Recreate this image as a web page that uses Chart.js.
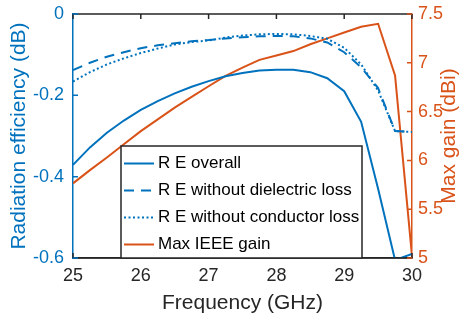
<!DOCTYPE html>
<html>
<head>
<meta charset="utf-8">
<script src="https://cdn.jsdelivr.net/npm/chart.js@4.4.1/dist/chart.umd.min.js"></script>
<style>
  html, body { margin: 0; padding: 0; background: #fff; }
  #wrap { width: 474px; height: 321px; }
</style>
</head>
<body>
<div id="wrap"><canvas id="chart"></canvas></div>
<script>
// frequency points (GHz)
const freq = [25, 25.25, 25.5, 25.75, 26, 26.25, 26.5, 26.75, 27, 27.25, 27.5,
  27.75, 28, 28.25, 28.5, 28.75, 29, 29.25, 29.5, 29.75, 30];

// radiation efficiency (dB)
const reOverall = [-0.371, -0.328, -0.292, -0.262, -0.236, -0.214, -0.195, -0.179, -0.165, -0.153, -0.145,
  -0.139, -0.137, -0.137, -0.143, -0.158, -0.19, -0.265, -0.43, -0.605, -0.59];
const reNoDielectric = [-0.138, -0.12, -0.105, -0.094, -0.084, -0.077, -0.072, -0.067, -0.064, -0.06, -0.057,
  -0.055, -0.054, -0.055, -0.06, -0.07, -0.094, -0.131, -0.182, -0.288, -0.29];
const reNoConductor = [-0.166, -0.143, -0.124, -0.109, -0.096, -0.085, -0.075, -0.069, -0.065, -0.058, -0.053,
  -0.05, -0.049, -0.05, -0.054, -0.061, -0.083, -0.124, -0.188, -0.288, -0.29];

// max gain (dBi)
const maxGain = [5.765, 5.9, 6.03, 6.165, 6.3, 6.42, 6.54, 6.65, 6.76, 6.865, 6.95,
  7.03, 7.075, 7.12, 7.19, 7.25, 7.31, 7.37, 7.4, 6.87, 5.02];

const freqTicks = [25, 26, 27, 28, 29, 30];
const effTicks = [0, -0.2, -0.4, -0.6];
const gainTicks = [7.5, 7, 6.5, 6, 5.5, 5];

const BLUE = '#0072BD';
const ORANGE = '#D95319';
const INK = '#262626';
const FONT = '"Liberation Sans", Arial, sans-serif';

const pts = ys => ys.map((y, i) => ({ x: freq[i], y: y }));

// keep the plot box where the layout padding puts it
const fixWidth = w => s => {
  s.width = w;
  s.paddingTop = 0;
  s.paddingBottom = 0;
};

// MATLAB-like frame: top edge, inward ticks, boxed legend, right label
const matlabFrame = {
  id: 'matlabFrame',
  afterDatasetsDraw(chart) {
    const { ctx, chartArea: a, scales } = chart;
    const len = 5;
    ctx.save();
    ctx.lineWidth = 1.5;

    ctx.strokeStyle = INK;
    ctx.beginPath();
    ctx.moveTo(a.left, a.top);
    ctx.lineTo(a.right, a.top);
    ctx.moveTo(a.left, a.bottom);
    ctx.lineTo(a.right, a.bottom);
    freqTicks.forEach(v => {
      const x = scales.x.getPixelForValue(v);
      ctx.moveTo(x, a.top); ctx.lineTo(x, a.top + len);
      ctx.moveTo(x, a.bottom); ctx.lineTo(x, a.bottom - len);
    });
    ctx.stroke();

    ctx.strokeStyle = BLUE;
    ctx.beginPath();
    effTicks.forEach(v => {
      const y = scales.y.getPixelForValue(v);
      ctx.moveTo(a.left, y); ctx.lineTo(a.left + len, y);
    });
    ctx.stroke();

    ctx.strokeStyle = ORANGE;
    ctx.beginPath();
    gainTicks.forEach(v => {
      const y = scales.y1.getPixelForValue(v);
      ctx.moveTo(a.right, y); ctx.lineTo(a.right - len, y);
    });
    ctx.stroke();

    // legend box
    const bx = a.left + 48, bw = 241, by = a.top + 132, bh = a.bottom - by;
    ctx.fillStyle = '#fff';
    ctx.fillRect(bx, by, bw, bh);
    ctx.strokeStyle = INK;
    ctx.lineWidth = 1.5;
    ctx.strokeRect(bx, by, bw, bh);

    ctx.font = '17px ' + FONT;
    ctx.textBaseline = 'middle';
    ctx.textAlign = 'left';
    chart.data.datasets.forEach((ds, i) => {
      const y = by + 17.5 + i * 27;
      ctx.strokeStyle = ds.borderColor;
      ctx.lineWidth = ds.borderWidth;
      ctx.setLineDash(ds.borderDash || []);
      ctx.beginPath();
      ctx.moveTo(bx + 3, y);
      ctx.lineTo(bx + 33, y);
      ctx.stroke();
      ctx.setLineDash([]);
      ctx.fillStyle = '#000';
      ctx.fillText(ds.label, bx + 37, y);
    });

    // right axis title, reading bottom to top like the left one
    ctx.fillStyle = ORANGE;
    ctx.font = '21px ' + FONT;
    ctx.textAlign = 'center';
    ctx.translate(449, (a.top + a.bottom) / 2);
    ctx.rotate(-Math.PI / 2);
    ctx.fillText('Max gain (dBi)', 0, 0);
    ctx.restore();
  }
};

new Chart(document.getElementById('chart'), {
  type: 'line',
  data: {
    datasets: [{
      label: 'R E overall',
      data: pts(reOverall),
      yAxisID: 'y',
      borderColor: BLUE,
      borderWidth: 2
    }, {
      label: 'R E without dielectric loss',
      data: pts(reNoDielectric),
      yAxisID: 'y',
      borderColor: BLUE,
      borderWidth: 2,
      borderDash: [10, 7]
    }, {
      label: 'R E without conductor loss',
      data: pts(reNoConductor),
      yAxisID: 'y',
      borderColor: BLUE,
      borderWidth: 2,
      borderDash: [2, 2.5]
    }, {
      label: 'Max IEEE gain',
      data: pts(maxGain),
      yAxisID: 'y1',
      borderColor: ORANGE,
      borderWidth: 2
    }]
  },
  options: {
    responsive: true,
    maintainAspectRatio: false,
    animation: false,
    layout: { padding: { top: 14, left: 0, right: 0, bottom: 0 } },
    elements: {
      point: { radius: 0 },
      line: { tension: 0, fill: false, borderCapStyle: 'butt' }
    },
    plugins: {
      legend: { display: false },
      tooltip: { enabled: false }
    },
    scales: {
      x: {
        type: 'linear',
        min: 25,
        max: 30,
        afterBuildTicks: s => { s.ticks = freqTicks.map(v => ({ value: v })); },
        afterFit: s => { s.height = 63; },
        grid: { display: false, drawTicks: false },
        border: { color: INK, width: 1.5 },
        ticks: { color: INK, padding: 7, maxRotation: 0, font: { family: FONT, size: 18 }, callback: v => String(v) },
        title: { display: true, text: 'Frequency (GHz)', color: INK, padding: { top: 0, bottom: 5 }, font: { family: FONT, size: 21 } }
      },
      y: {
        position: 'left',
        min: -0.6,
        max: 0,
        afterBuildTicks: s => { s.ticks = effTicks.map(v => ({ value: v })); },
        afterFit: fixWidth(73),
        grid: { display: false, drawTicks: false },
        border: { color: BLUE, width: 1.5 },
        ticks: { color: BLUE, padding: 9, font: { family: FONT, size: 18 }, callback: v => String(v) },
        title: { display: true, text: 'Radiation efficiency (dB)', color: BLUE, padding: { top: 7, bottom: 0 }, font: { family: FONT, size: 21 } }
      },
      y1: {
        position: 'right',
        min: 5,
        max: 7.5,
        afterBuildTicks: s => { s.ticks = gainTicks.map(v => ({ value: v })); },
        afterFit: fixWidth(62),
        grid: { display: false, drawTicks: false },
        border: { color: ORANGE, width: 1.5 },
        ticks: { color: ORANGE, padding: 6, font: { family: FONT, size: 18 }, callback: v => String(v) },
        title: { display: false }
      }
    }
  },
  plugins: [matlabFrame]
});
</script>
</body>
</html>
